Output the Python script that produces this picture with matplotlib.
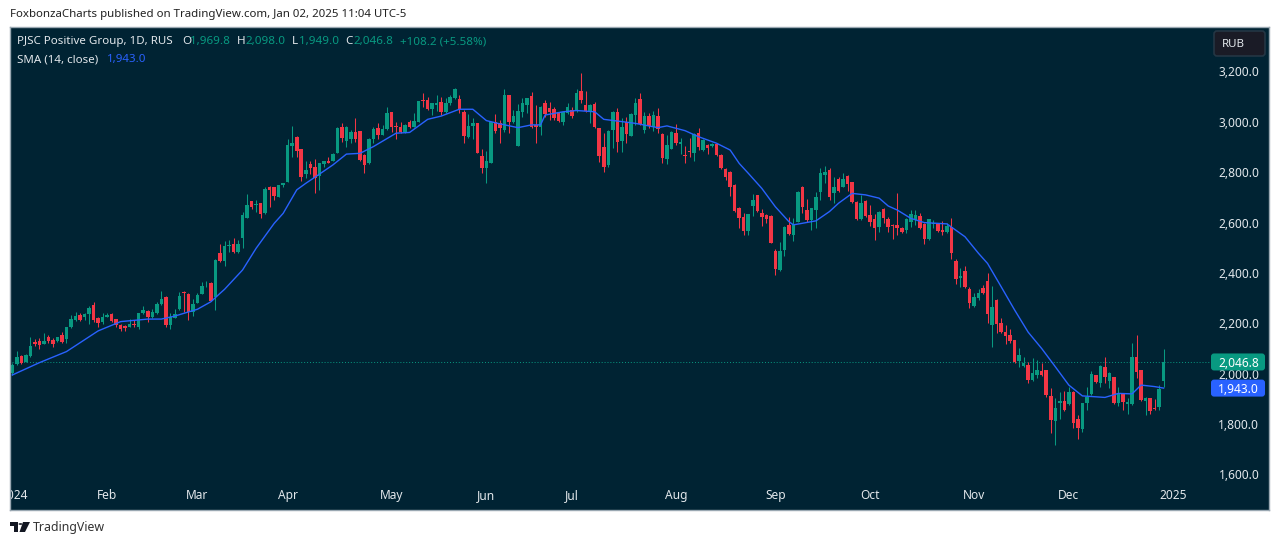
import matplotlib
matplotlib.use("Agg")
import matplotlib.pyplot as plt
import numpy as np
from matplotlib.patches import FancyBboxPatch, Polygon, Circle
from matplotlib.transforms import IdentityTransform

plt.rcParams['font.family'] = ['Noto Sans', 'DejaVu Sans']

opens = [2002,2037,2071,2047,2071,2126,2131,2118,2147,2134,2129,2154,2137,2187,2213,2235,2224,2237,2273,2223,2205,2227,2237,2216,
2194,2191,2187,2196,2187,2240,2250,2224,2240,2277,2306,2194,2220,2256,2325,2315,2246,2282,2317,2355,2362,2306,2478,2449,
2507,2515,2485,2538,2620,2686,2668,2677,2637,2743,
2740,2703,2749,2763,2904,2941,2891,2793,2833,2820,
2785,2833,2844,2846,2878,2981,2925,2931,2960,2964,
2868,2835,2932,2976,2948,2970,3038,2983,2981,2958,
3000,2981,3001,3085,3087,3050,3068,3078,3038,3074,
3093,3091,3040,2941,2984,2994,2865,2816,2838,3001,
2994,2968,3107,3001,2904,3040,3067,3103,2988,2981,
3074,3054,3051,3038,3001,3034,3047,3045,3124,3067,
3041,3071,2974,2899,2829,2968,3041,2924,3001,2945,
3027,3091,2968,3023,2978,3023,2952,2851,
2892,2955,2912,2868,2886,2878,2957,2888,2908,2904,
2912,2868,2812,2802,2749,2657,2624,2568,2666,2710,
2640,2630,2626,2489,2412,2491,2591,2551,2604,2743,
2650,2610,2650,2723,2789,2809,2716,2772,2743,2785,
2763,2683,2613,2687,2630,2613,2581,2653,2613,2590,
2590,2577,2571,2604,2610,2628,2595,2534,2595,2597,
2571,2564,2584,2449,2379,2409,2335,2269,2302,2339,
2370,2194,2293,2203,2167,2154,2134,2052,2031,2035,
1975,1995,2012,2015,1912,1814,1883,1893,1879,1929,
1819,1779,1885,1920,1995,1962,2026,1973,1986,1885,
1925,1880,1880,2068,2015,1893,1902,1863,1867,1969.8]

closes = [2035,2065,2041,2073,2110,2118,2114,2129,2129,2118,2145,2125,2184,2217,2229,2213,2237,2262,2213,2200,2227,2232,2208,2194,
2179,2180,2198,2192,2240,2253,2224,2245,2277,2295,2194,2227,2237,2310,2319,2245,2277,2313,2350,2358,2290,2452,2449,2507,
2511,2485,2515,2630,2670,2663,2672,2634,2732,2730,
2706,2749,2759,2908,2917,2884,2780,2809,2816,2776,
2835,2845,2838,2872,2977,2935,2978,2959,2931,2849,
2829,2931,2972,2948,2972,3037,2978,2981,2961,2988,
2978,3003,3082,3081,3050,3074,3074,3038,3076,3097,
3130,3050,2944,2984,2994,2878,2816,2846,3001,2965,
2974,3107,3001,3023,3044,3074,3093,2981,2981,3060,
3031,3040,3014,3005,3038,3060,3023,3113,3087,3045,
3067,2978,2865,2822,2965,3041,2921,2981,2952,3031,
3076,2992,3023,2984,3027,2970,2855,2908,
2958,2915,2921,2866,2882,2952,2899,2928,2895,2912,
2868,2816,2782,2743,2648,2617,2568,2633,2690,2648,
2621,2613,2521,2416,2489,2584,2555,2595,2723,2661,
2610,2657,2703,2796,2802,2703,2743,2727,2772,2753,
2683,2613,2677,2626,2604,2577,2644,2617,2581,2586,
2577,2561,2614,2634,2630,2577,2534,2613,2600,2568,
2561,2587,2481,2375,2388,2343,2280,2303,2319,2322,
2237,2264,2198,2167,2150,2131,2048,2075,2042,1975,
2002,2015,1995,1916,1817,1863,1891,1856,1929,1803,
1783,1883,1909,1999,1966,2031,1986,2002,1885,1920,
1889,1889,2065,2008,1896,1905,1854,1859,1938,2046.8]

highs = [2041,2092,2075,2078,2145,2137,2143,2163,2153,2143,2147,2165,2186,2233,2244,2240,2243,2269,2286,2224,2242,2240,2240,2218,
2196,2193,2217,2213,2242,2270,2253,2257,2284,2329,2309,2240,2257,2326,2327,2319,2295,2319,2363,2370,2363,2454,2515,2527,
2529,2538,2529,2644,2714,2687,2690,2679,2740,2744,
2743,2749,2759,2931,2984,2942,2892,2843,2846,2851,
2838,2845,2859,2875,2979,2994,2984,2968,3017,2965,
2872,2935,2978,2997,2988,3058,3039,3001,2998,2990,
3007,3037,3082,3116,3100,3075,3107,3097,3093,3107,
3133,3107,3047,3031,3014,2997,2891,2886,3001,3031,
3007,3129,3108,3047,3071,3093,3094,3120,3067,3063,
3087,3080,3058,3040,3040,3074,3058,3129,3195,3124,
3070,3080,2975,2955,2968,3045,3054,3014,3018,3034,
3093,3116,3040,3034,3045,3054,2957,2948,
2964,2992,2935,2904,2935,2954,2974,2931,2912,2915,
2917,2871,2816,2803,2752,2661,2640,2633,2714,2710,
2653,2633,2630,2494,2525,2587,2621,2617,2727,2747,
2693,2657,2723,2816,2826,2816,2782,2780,2796,2789,
2763,2686,2710,2690,2670,2634,2648,2657,2621,2595,
2717,2584,2617,2650,2650,2637,2597,2613,2610,2600,
2608,2597,2617,2454,2419,2428,2343,2319,2335,2352,
2401,2348,2296,2220,2194,2176,2134,2101,2065,2048,
2061,2055,2044,2015,1942,1903,1929,1933,1946,1933,
1836,1885,1949,2012,1995,2035,2068,2008,1988,1949,
1925,1902,2121,2154,2015,1907,1905,1898,1955,2098]

lows = [1995,2035,2038,2045,2068,2110,2098,2118,2123,2108,2127,2124,2121,2180,2211,2208,2213,2198,2207,2184,2198,2224,2205,2187,
2171,2171,2187,2184,2176,2237,2207,2220,2237,2274,2187,2179,2220,2253,2246,2213,2229,2280,2317,2346,2287,2253,2445,2428,
2485,2478,2481,2501,2617,2653,2644,2620,2634,2660,
2690,2700,2743,2761,2862,2862,2767,2779,2793,2719,
2730,2820,2835,2846,2875,2921,2899,2917,2921,2846,
2798,2833,2915,2932,2948,2968,2961,2931,2955,2955,
2977,2979,2998,3060,3047,3027,3045,3027,3034,3067,
3090,3034,2915,2935,2931,2875,2796,2756,2835,2955,
2917,2961,2957,2994,2903,3021,3034,2974,2917,2948,
3021,3007,3007,3001,2988,3032,3014,3041,3076,3041,
2994,2974,2842,2802,2822,2895,2882,2882,2917,2944,
2988,2988,2957,2974,2965,2955,2835,2832,
2891,2908,2872,2835,2859,2846,2888,2886,2872,2902,
2864,2812,2769,2706,2644,2577,2551,2551,2626,2644,
2587,2597,2518,2392,2409,2468,2551,2528,2604,2640,
2604,2571,2577,2690,2756,2690,2679,2723,2740,2727,
2677,2610,2610,2624,2587,2529,2564,2597,2564,2534,
2551,2557,2557,2584,2591,2573,2515,2531,2577,2564,
2551,2560,2454,2356,2343,2340,2260,2266,2293,2317,
2203,2105,2161,2163,2118,2124,2041,2028,2028,1965,
1973,1982,1991,1909,1766,1717,1819,1854,1876,1783,
1740,1770,1856,1916,1962,1949,1962,1942,1880,1872,
1856,1840,1876,1982,1893,1836,1840,1858,1856,1949]

sma_days = [0,6,12,19,24,30,33,36,41,44,46,47,51,54,58,60,63,65,67,71,74,77,80,85,88,92,95,99,102,105,108,112,115,117,118,122,125,129,131,135,138,143,145,149,152,156,159,161,163,166,169,172,173,178,181,183,186,189,192,194,196,199,202,207,211,214,216,219,222,225,228,231,234,237,242,245,248,250,253,255]
sma_values = [1995,2044,2088,2170,2207,2217,2217,2229,2256,2286,2319,2335,2412,2498,2597,2637,2730,2756,2780,2829,2872,2875,2902,2955,2958,3010,3023,3050,3050,3005,2992,2977,2988,2988,3027,3040,3045,3040,3010,3001,2994,2977,2984,2965,2941,2915,2888,2835,2796,2736,2663,2604,2591,2607,2644,2677,2716,2710,2697,2666,2650,2617,2600,2595,2544,2478,2438,2346,2253,2165,2100,2028,1955,1912,1906,1922,1920,1955,1949,1943]

month_days = [0.5,21,41,61,84,105,124,147,169,190,213,234,257]
month_labels = ['2024','Feb','Mar','Apr','May','Jun','Jul','Aug','Sep','Oct','Nov','Dec','2025']
price_ticks = [1600,1800,2000,2200,2400,2600,2800,3000,3200]
last_close = 2046.8
last_sma = 1943.0

W, H = 1280, 545
BG = '#002333'
GREEN = '#089981'
RED = '#F23645'
BLUE = '#2962FF'
TXT = '#E2E7EB'

fig = plt.figure(figsize=(W/100, H/100), dpi=100, facecolor='white')
ax = fig.add_axes([10/W, (H-510)/H, 1259/W, 483/H], facecolor=BG)
x0, dx = 12.3, 4.515
ax.set_xlim((10-x0)/dx, (1269-x0)/dx)
ax.set_ylim(1600+(474.5-510)*3.97, 1600+(474.5-27)*3.97)

idx = np.arange(len(opens))
o, h, l, c = map(np.array, (opens, highs, lows, closes))
col = np.where(c >= o, GREEN, RED)
ax.vlines(idx, l, h, colors=col, lw=0.75, zorder=2)
ax.bar(idx, np.abs(c-o), bottom=np.minimum(o, c), width=0.78, color=col, linewidth=0, zorder=2.1)
ax.plot(sma_days, sma_values, color=BLUE, lw=1.0, zorder=3)
ax.plot([idx[0], (1211-x0)/dx], [last_close, last_close], ls=(0, (1, 2)), lw=0.7, color=GREEN, zorder=1.8)

for s in ax.spines.values():
    s.set_color('#9AA8B2')
    s.set_linewidth(1)

ax.yaxis.tick_right()
ax.set_yticks(price_ticks, [f'{p:,.1f}' for p in price_ticks])
ax.tick_params(axis='y', length=0, pad=-7, labelsize=8.6, labelcolor=TXT)
for t in ax.get_yticklabels():
    t.set_horizontalalignment('right')
ax.set_xticks(month_days, month_labels)
ax.tick_params(axis='x', length=0, pad=-15.2, labelsize=8.6, labelcolor=TXT)
for t in ax.get_xticklabels():
    t.set_clip_on(True)
    t.set_clip_box(ax.bbox)

def rounded(x, y_top, w, h_px, face, edge='none', lw=0, z=5):
    p = FancyBboxPatch((x, H-y_top-h_px), w, h_px, boxstyle='round,pad=0,rounding_size=3',
                       transform=IdentityTransform(), facecolor=face, edgecolor=edge, lw=lw, zorder=z)
    fig.add_artist(p)

def tag(val, color):
    yp = H - ax.transData.transform((0, val))[1]
    rounded(1211, yp-8.5, 54, 17, color)
    ax.text((1238.5-10)/1259, val-5, f'{val:,.1f}', transform=ax.get_yaxis_transform(), color='white',
            fontsize=8.6, ha='center', va='center', zorder=20)
    ax.texts[-1].set_in_layout(False)

def px(x, y):
    return x/W, 1-y/H

def label(x, y, s, color, size=8.3, weight='normal'):
    fig.text(*px(x, y), s, color=color, fontsize=size, ha='left', va='center', weight=weight, zorder=10)

tag(last_close, GREEN)
tag(last_sma, BLUE)
# tags sit in figure layer: draw their texts above them
for t in list(ax.texts):
    xd, yd = t.get_position()
    yp = H - ax.get_yaxis_transform().transform((0, yd))[1]
    fig.text(1238.5/W, 1-yp/H, t.get_text(), color='white', fontsize=8.6, ha='center', va='center', zorder=20)
    t.remove()

# header & legend
label(10, 15, 'FoxbonzaCharts published on TradingView.com, Jan 02, 2025 11:04 UTC-5', '#222222', 8.27)
label(17, 41.5, 'PJSC Positive Group, 1D, RUS', TXT, 8.3)
for xt, s, colr in [(182, 'O', TXT), (190, '1,969.8', GREEN), (237, 'H', TXT), (245, '2,098.0', GREEN),
                    (292, 'L', TXT), (299, '1,949.0', GREEN), (345, 'C', TXT), (353, '2,046.8', GREEN),
                    (400, '+108.2 (+5.58%)', GREEN)]:
    label(xt, 41.5, s, colr, 8.4)
label(17, 59.5, 'SMA (14, close)', TXT, 8.3)
label(107, 59.5, '1,943.0', BLUE, 8.3)

# RUB button
rounded(1214, 31, 51, 25, '#1A1B26', '#243644', 1.2)
label(1222, 44.5, 'RUB', TXT, 8.3)

# TradingView mark
ft = fig.transFigure
poly = lambda pts: fig.add_artist(Polygon([px(*p) for p in pts], closed=True, transform=ft, facecolor='#131722', edgecolor='none'))
poly([(10, 522), (18, 522), (18, 532), (14, 532), (14, 526), (10, 526)])
poly([(23, 522), (30, 522), (25, 532), (19.5, 532)])
fig.add_artist(Circle(px(20.5, 524), 2/W, transform=ft, facecolor='#131722', edgecolor='none'))
label(33, 527, 'TradingView', '#333333', 8.9)

fig.savefig('out.png', dpi=100, facecolor='white')
